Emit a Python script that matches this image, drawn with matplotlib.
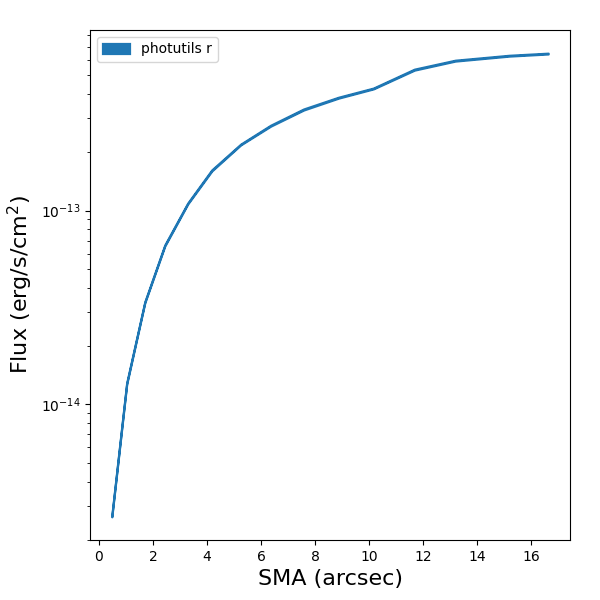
import matplotlib
matplotlib.use('Agg')
import matplotlib.pyplot as plt
import numpy as np

# semi-major axis (arcsec) and cumulative flux
sma = [0.48, 1.03, 1.70, 2.44, 3.29, 4.18, 5.25, 6.36, 7.58, 8.87, 10.16, 11.68, 13.19, 15.19, 16.63]
flux_lo = [2.63e-15, 1.27e-14, 3.34e-14, 6.56e-14, 1.081e-13, 1.60e-13, 2.18e-13, 2.725e-13,
           3.30e-13, 3.80e-13, 4.24e-13, 5.30e-13, 5.90e-13, 6.26e-13, 6.42e-13]
flux_hi = [2.67e-15, 1.29e-14, 3.38e-14, 6.64e-14, 1.093e-13, 1.62e-13, 2.20e-13, 2.755e-13,
           3.34e-13, 3.84e-13, 4.28e-13, 5.36e-13, 5.96e-13, 6.32e-13, 6.48e-13]

fig = plt.figure(figsize=(6, 6), dpi=100)
ax = fig.add_axes([0.15, 0.1, 0.8, 0.85])
ax.fill_between(sma, flux_lo, flux_hi, color='#1f77b4', edgecolor='#1f77b4', linewidth=1.6, label='photutils r')
ax.set_yscale('log')
ax.set_xlabel('SMA (arcsec)', fontsize=16)
ax.set_ylabel('Flux (erg/s/cm$^2$)', fontsize=16)
ax.legend(loc='upper left')
fig.savefig('out.png', dpi=100)
